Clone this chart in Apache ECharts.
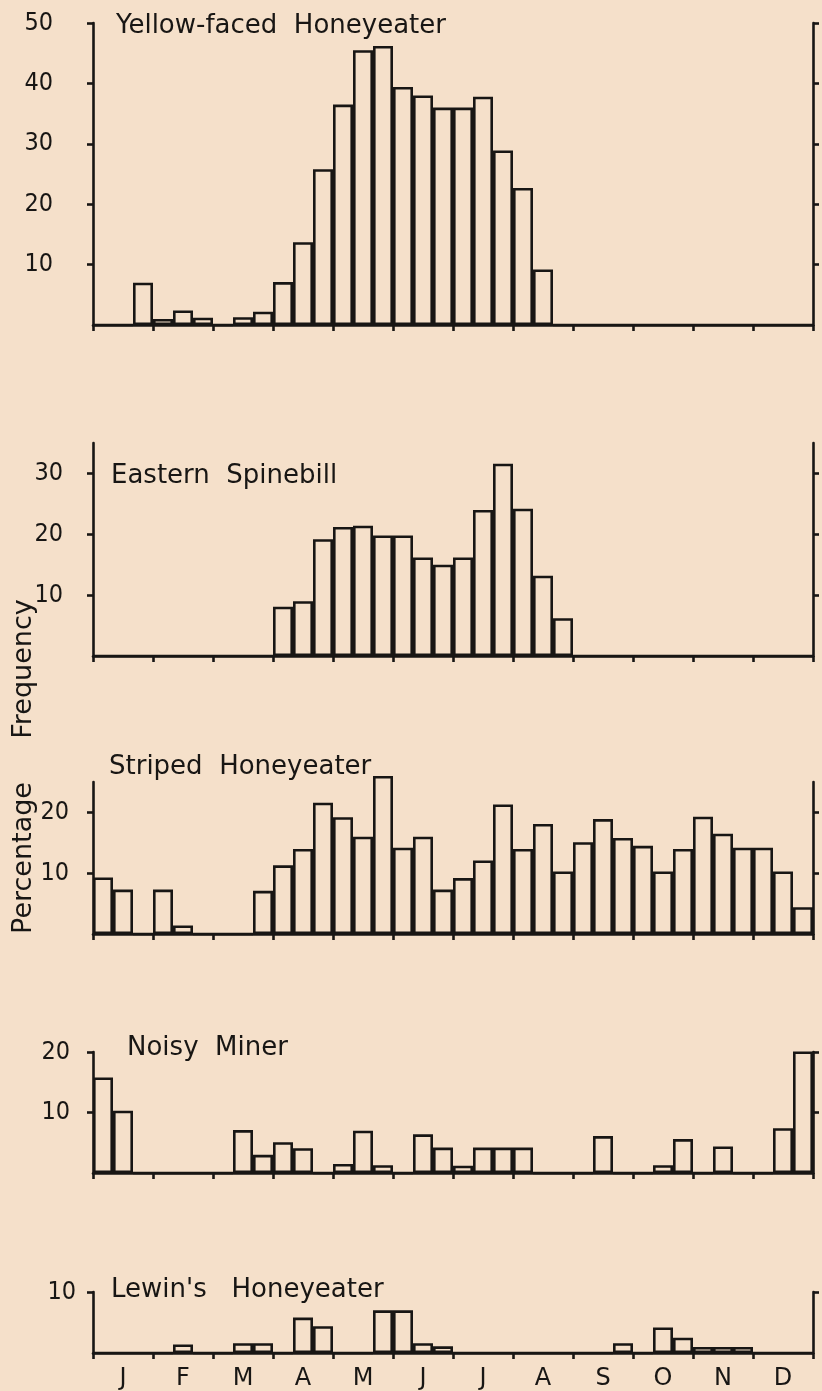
<!DOCTYPE html>
<html>
<head>
<meta charset="utf-8">
<script src="https://cdn.jsdelivr.net/npm/echarts@6/dist/echarts.min.js"></script>
<style>
html,body{margin:0;padding:0;background:#f5e0ca;}
#c{width:822px;height:1391px;}
</style>
</head>
<body>
<div id="c"></div>
<script>
// Month initials (axis labels) and 10-day periods (three per month)
const monthLetters = ['J','F','M','A','M','J','J','A','S','O','N','D'];
const monthNames = ['Jan','Feb','Mar','Apr','May','Jun','Jul','Aug','Sep','Oct','Nov','Dec'];
const periods = [];
monthNames.forEach(m => { periods.push(m + ' I', m + ' II', m + ' III'); });

// Percentage frequency per 10-day period
const yellowFaced = [0,0,7, 1,2.4,1.2, 0,1.3,2.2, 7.1,13.7,25.8, 36.5,45.5,46.2, 39.4,38,36,
                     36,37.8,28.9, 22.7,9.2,0, 0,0,0, 0,0,0, 0,0,0, 0,0,0];
const spinebill   = [0,0,0, 0,0,0, 0,0,0, 8.1,9.0,19.2, 21.2,21.4,19.8, 19.8,16.2,15.0,
                     16.2,24.0,31.6, 24.2,13.2,6.2, 0,0,0, 0,0,0, 0,0,0, 0,0,0];
const striped     = [9.3,7.3,0, 7.3,1.4,0, 0,0,7.1, 11.3,14.0,21.6, 19.2,16.0,26.0, 14.2,16.0,7.3,
                     9.2,12.1,21.3, 14.0,18.1,10.3, 15.1,18.9,15.8, 14.5,10.3,14.0, 19.3,16.5,14.2, 14.2,10.3,4.4];
const noisyMiner  = [15.8,10.3,0, 0,0,0, 0,7.1,3.0, 5.1,4.1,0, 1.5,7.0,1.3, 0,6.4,4.2,
                     1.2,4.2,4.2, 4.2,0,0, 0,6.1,0, 0,1.3,5.6, 0,4.4,0, 0,7.4,20.1];
const lewins      = [0,0,0, 0,1.4,0, 0,1.6,1.6, 0,5.8,4.4, 0,0,7.0, 7.0,1.6,1.1,
                     0,0,0, 0,0,0, 0,0,1.6, 0,4.2,2.5, 1.0,1.0,1.0, 0,0,0];

// Tick labels per panel
const ticksYF = [10,20,30,40,50];
const ticksES = [10,20,30];
const ticksSH = [10,20];
const ticksNM = [10,20];
const ticksLH = [10];

const INK = '#181614';
const BG = '#f5e0ca';
const FONT = "'DejaVu Sans'";
const NUMFONT = "'DejaVu Sans Condensed', 'DejaVu Sans'";

const panels = [
  {name:'Yellow-faced  Honeyeater', data:yellowFaced, max:50, ticks:ticksYF, top:23,   h:302, tx:116, ty:26,   margin:40},
  {name:'Eastern  Spinebill',       data:spinebill,   max:35, ticks:ticksES, top:443,  h:213, tx:111, ty:476,  margin:30},
  {name:'Striped  Honeyeater',      data:striped,     max:25, ticks:ticksSH, top:782,  h:152, tx:109, ty:767,  margin:24},
  {name:'Noisy  Miner',             data:noisyMiner,  max:20, ticks:ticksNM, top:1052, h:121, tx:127, ty:1048, margin:23},
  {name:"Lewin's   Honeyeater",     data:lewins,      max:10, ticks:ticksLH, top:1292, h:63,  tx:111, ty:1290, margin:17}
];

const grid = [], xAxis = [], yAxis = [], series = [], graphic = [];
const lineStyle = {color: INK, width: 2.6};

panels.forEach((p, i) => {
  grid.push({left: 93, right: 9, top: p.top, height: p.h});
  xAxis.push({
    type: 'category', gridIndex: i, data: periods, boundaryGap: true,
    axisLine: {show: true, lineStyle: lineStyle},
    axisTick: {show: true, interval: (idx) => idx % 3 === 0, length: 6, lineStyle: lineStyle},
    axisLabel: {
      show: i === 4, interval: 0, margin: 14,
      formatter: (v, idx) => (idx % 3 === 1 ? monthLetters[Math.floor(idx / 3)] : ''),
      color: INK, fontFamily: FONT, fontSize: 24
    },
    splitLine: {show: false}
  });
  const yBase = {
    type: 'value', gridIndex: i, min: 0, max: p.max,
    axisLine: {show: true, lineStyle: lineStyle},
    axisTick: {show: true, length: 6, customValues: p.ticks, lineStyle: lineStyle},
    splitLine: {show: false}
  };
  yAxis.push(Object.assign({}, yBase, {
    position: 'left',
    axisLabel: {show: true, customValues: p.ticks, margin: p.margin, color: INK, fontFamily: NUMFONT, fontSize: 25}
  }));
  yAxis.push(Object.assign({}, yBase, {
    position: 'right',
    axisLabel: {show: false}
  }));
  series.push({
    type: 'bar', xAxisIndex: i, yAxisIndex: 2 * i, data: p.data,
    barWidth: '100%', barCategoryGap: 0, clip: false, silent: true,
    itemStyle: {color: BG, borderColor: INK, borderWidth: 2.6}
  });
  graphic.push({
    type: 'text', x: p.tx, y: p.ty, z: 100,
    style: {text: p.name, fontFamily: FONT, fontSize: 26, fill: INK, align: 'left', verticalAlign: 'middle'}
  });
});

// Shared axis title, rotated to read bottom-to-top
graphic.push({
  type: 'text', x: 24, y: 669, rotation: Math.PI / 2, z: 100,
  style: {text: 'Frequency', fontFamily: FONT, fontSize: 27, fill: INK, align: 'center', verticalAlign: 'middle'}
});
graphic.push({
  type: 'text', x: 24, y: 858, rotation: Math.PI / 2, z: 100,
  style: {text: 'Percentage', fontFamily: FONT, fontSize: 27, fill: INK, align: 'center', verticalAlign: 'middle'}
});

const chart = echarts.init(document.getElementById('c'), null, {renderer: 'canvas'});
chart.setOption({
  backgroundColor: BG,
  animation: false,
  grid, xAxis, yAxis, series, graphic
});
</script>
</body>
</html>
